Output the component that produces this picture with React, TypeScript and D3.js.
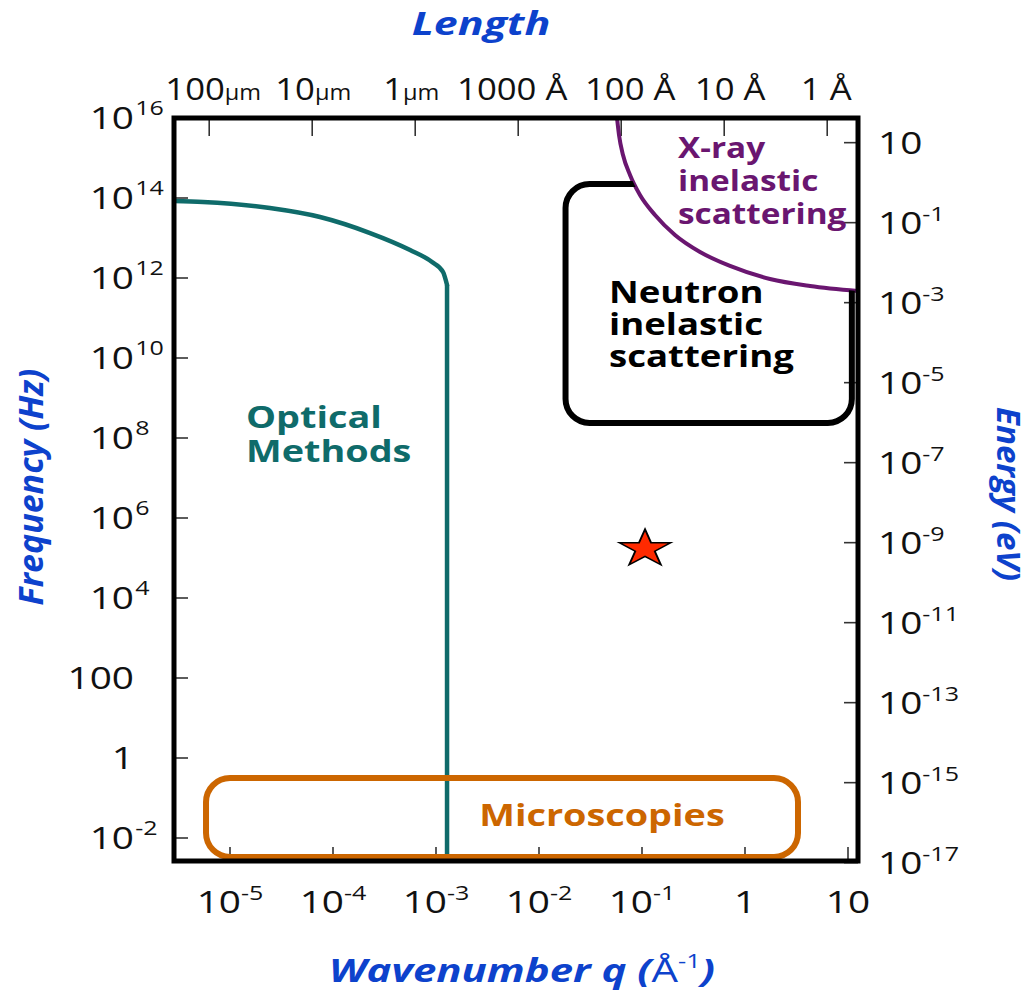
import React from "react";
import * as d3 from "d3";

const W = 1032;
const H = 991;
const PLANCK_EV_S = 4.135667e-15;

// Bottom axis: wavenumber q (1/Å)
const qTicks = [1e-5, 1e-4, 1e-3, 1e-2, 1e-1, 1, 10];
const qTickBase = ["10", "10", "10", "10", "10", "1", "10"];
const qTickExp = ["-5", "-4", "-3", "-2", "-1", "", ""];

// Top axis: length (Å), q = 2π / L
const lengthTicksA = [1e6, 1e5, 1e4, 1e3, 100, 10, 1];
const lengthNums = ["100", "10", "1", "1000", "100", "10", "1"];
const lengthUnits = ["µm", "µm", "µm", "Å", "Å", "Å", "Å"];

// Left axis: frequency (Hz)
const freqTicks = [1e-2, 1, 1e2, 1e4, 1e6, 1e8, 1e10, 1e12, 1e14, 1e16];
const freqBase = ["10", "1", "100", "10", "10", "10", "10", "10", "10", "10"];
const freqExp = ["-2", "", "", "4", "6", "8", "10", "12", "14", "16"];

// Right axis: energy (eV)
const energyTicks = [10, 1e-1, 1e-3, 1e-5, 1e-7, 1e-9, 1e-11, 1e-13, 1e-15, 1e-17];
const energyBase = ["10", "10", "10", "10", "10", "10", "10", "10", "10", "10"];
const energyExp = ["", "-1", "-3", "-5", "-7", "-9", "-11", "-13", "-15", "-17"];

// Optical methods boundary (q, f)
const opticalQ = [2.86e-6, 5.47e-6, 2.44e-5, 7.48e-5, 2.29e-4, 5.6e-4, 9.15e-4, 1.17e-3, 1.28e-3];
const opticalF = [8.41e13, 7.94e13, 5.62e13, 3.35e13, 1.33e13, 5.01e12, 2.51e12, 1.41e12, 6.68e11];
const opticalBottomF = 2.6e-3;

// X-ray inelastic scattering boundary (q, f)
const xrayQ = [0.0572, 0.0598, 0.0654, 0.0765, 0.0956, 0.1337, 0.209, 0.3657, 0.715, 1.748, 4.28, 12.5];
const xrayF = [1e16, 3.76e15, 1.19e15, 3.76e14, 1.19e14, 3.76e13, 1.19e13, 4.47e12, 2.0e12, 9.44e11, 6.31e11, 4.73e11];

// Neutron box (q range, f range)
const neutronQ = [0.0181, 10.9];
const neutronF = [2.37e8, 2.24e14];

// Microscopies box
const microQ = [5.85e-6, 3.27];
const microF = [3.35e-3, 0.316];

// Star marker
const starQ = [0.107];
const starF = [1.9e5];

const BLUE = "#0d42cc";
const TEAL = "#0f6b6a";
const PURPLE = "#6a1670";
const ORANGE = "#cc6600";

const LEFT = 174;
const RIGHT = 858;
const TOP = 118;
const BOTTOM = 861;

// small horizontal nudges of the top-axis labels (layout only)
const TOP_LABEL_DX = [4, 1, -4, -6, 9, 6, -1];

const x = d3.scaleLog().domain([Math.pow(10, -5 - 56 / 103), Math.pow(10, 1 + 10 / 103)]).range([LEFT, RIGHT]);
const y = d3.scaleLog().domain([Math.pow(10, -2 - 23 / 40), 1e16]).range([BOTTOM, TOP]);

const FONT = "'Open Sans', 'DejaVu Sans', sans-serif";

function SText({ x, y, sx = 1, children, ...rest }: any) {
  return (
    <g transform={`translate(${x},${y}) scale(${sx},1)`}>
      <text x={0} y={0} {...rest}>
        {children}
      </text>
    </g>
  );
}

function PowLabel({ base, exp, size, supSize }: { base: string; exp: string; size: number; supSize: number }) {
  return (
    <>
      <tspan fontSize={size}>{base}</tspan>
      {exp ? (
        <tspan fontSize={supSize} dy={-size * 0.42}>
          {exp}
        </tspan>
      ) : null}
    </>
  );
}

const TSX = 1.25; // horizontal stretch of tick labels

export default function App() {
  const tickLen = 14;
  const tickStyle = { stroke: "#333", strokeWidth: 1.6 };

  const optPts: [number, number][] = opticalQ.map((q, i) => [x(q), y(opticalF[i])]);
  const optLine = d3.line().curve(d3.curveMonotoneX)(optPts) || "";
  const lastOpt = optPts[optPts.length - 1];
  const optVert = `M${lastOpt[0]},${lastOpt[1]}L${lastOpt[0]},${y(opticalBottomF)}`;

  const xrPts: [number, number][] = xrayQ.map((q, i) => [x(q), y(xrayF[i])]);
  const xrLine = d3.line().curve(d3.curveMonotoneX)(xrPts) || "";
  const xrFirst = xrPts[0];
  const xrLast = xrPts[xrPts.length - 1];
  const outsideXray = `M-20,-20L${xrFirst[0]},-20L${xrFirst[0]},${xrFirst[1]}` +
    xrLine.replace(/^M[^LC]*/, "") +
    `L${W + 20},${xrLast[1]}L${W + 20},${H + 20}L-20,${H + 20}Z`;

  const star = d3.symbol().type(d3.symbolStar).size(480)() || "";

  const nX0 = x(neutronQ[0]);
  const nX1 = x(neutronQ[1]);
  const nY0 = y(neutronF[1]);
  const nY1 = y(neutronF[0]);

  const mX0 = x(microQ[0]);
  const mX1 = x(microQ[1]);
  const mY0 = y(microF[1]);
  const mY1 = y(microF[0]);

  return (
    <svg
      width={W}
      height={H}
      style={{ position: "absolute", left: 0, top: 0, background: "#fff" }}
      fontFamily={FONT}
    >
      <defs>
        <clipPath id="plotClip">
          <rect x={LEFT} y={TOP} width={RIGHT - LEFT} height={BOTTOM - TOP} />
        </clipPath>
        <clipPath id="belowXray">
          <path d={outsideXray} />
        </clipPath>
      </defs>

      {/* titles */}
      <SText x={481} y={35} sx={1.3} textAnchor="middle" fill={BLUE} fontSize={33} fontWeight={700} fontStyle="italic">
        Length
      </SText>
      <text
        transform={`translate(43,487) rotate(-90)`}
        textAnchor="middle"
        fill={BLUE}
        fontSize={34}
        fontWeight={700}
        fontStyle="italic"
      >
        Frequency (Hz)
      </text>
      <text
        transform={`translate(997,494) rotate(90)`}
        textAnchor="middle"
        fill={BLUE}
        fontSize={33}
        fontWeight={700}
        fontStyle="italic"
      >
        Energy (eV)
      </text>
      <SText x={522} y={982} sx={1.27} textAnchor="middle" fill={BLUE} fontSize={33}>
        <tspan fontWeight={700} fontStyle="italic">Wavenumber q (</tspan>
        <tspan fontWeight={400}>Å</tspan>
        <tspan fontWeight={400} fontSize={20} dy={-14}>-1</tspan>
        <tspan fontWeight={700} fontStyle="italic" dy={14}>)</tspan>
      </SText>

      {/* ticks */}
      {qTicks.map((q, i) => (
        <line key={"bt" + i} x1={x(q)} x2={x(q)} y1={BOTTOM} y2={BOTTOM - tickLen} {...tickStyle} />
      ))}
      {lengthTicksA.map((L, i) => (
        <line key={"tt" + i} x1={x((2 * Math.PI) / L)} x2={x((2 * Math.PI) / L)} y1={TOP} y2={TOP + tickLen + 4} {...tickStyle} />
      ))}
      {freqTicks.map((f, i) => (
        <line key={"lt" + i} x1={LEFT} x2={LEFT + tickLen} y1={y(f)} y2={y(f)} {...tickStyle} />
      ))}
      {energyTicks.map((e, i) => (
        <line key={"rt" + i} x1={RIGHT} x2={RIGHT - tickLen} y1={y(e / PLANCK_EV_S)} y2={y(e / PLANCK_EV_S)} {...tickStyle} />
      ))}

      {/* tick labels */}
      {qTicks.map((q, i) => (
        <SText key={"bl" + i} x={x(q)} y={913} sx={TSX} textAnchor="middle" fill="#111">
          <PowLabel base={qTickBase[i]} exp={qTickExp[i]} size={31} supSize={20} />
        </SText>
      ))}
      {lengthTicksA.map((L, i) => (
        <SText
          key={"tl" + i}
          x={x((2 * Math.PI) / L) + TOP_LABEL_DX[i]}
          y={100}
          sx={1.12}
          textAnchor="middle"
          fill="#111"
          fontSize={31}
        >
          <tspan>{lengthNums[i]}</tspan>
          {lengthUnits[i] === "µm" ? <tspan fontSize={21}>µm</tspan> : <tspan> {lengthUnits[i]}</tspan>}
        </SText>
      ))}
      {freqTicks.map((f, i) => (
        <g key={"ll" + i} transform={`translate(134,${y(f)}) scale(${TSX},1)`}>
          <text x={0} y={11} textAnchor="end" fill="#111" fontSize={31}>
            {freqBase[i]}
          </text>
          {freqExp[i] ? (
            <text x={1} y={-3} textAnchor="start" fill="#111" fontSize={20}>
              {freqExp[i]}
            </text>
          ) : null}
        </g>
      ))}
      {energyTicks.map((e, i) => (
        <SText key={"rl" + i} x={878} y={y(e / PLANCK_EV_S) + 11} sx={TSX} textAnchor="start" fill="#111">
          <PowLabel base={energyBase[i]} exp={energyExp[i]} size={31} supSize={20} />
        </SText>
      ))}

      {/* regions */}
      <g clipPath="url(#plotClip)">
        <path d={optLine} fill="none" stroke={TEAL} strokeWidth={4.5} strokeLinecap="round" />
        <path d={optVert} fill="none" stroke={TEAL} strokeWidth={4.5} />
        <path d={xrLine} fill="none" stroke={PURPLE} strokeWidth={4} />
      </g>
      <g clipPath="url(#belowXray)">
        <rect x={nX0} y={nY0} width={nX1 - nX0} height={nY1 - nY0} rx={24} ry={24} fill="none" stroke="#000" strokeWidth={6} />
      </g>
      <rect x={mX0} y={mY0} width={mX1 - mX0} height={mY1 - mY0} rx={24} ry={24} fill="none" stroke={ORANGE} strokeWidth={6} />

      {/* frame */}
      <rect x={LEFT} y={TOP} width={RIGHT - LEFT} height={BOTTOM - TOP} fill="none" stroke="#000" strokeWidth={5} />

      {/* star */}
      <path
        d={star}
        transform={`translate(${x(starQ[0])},${y(starF[0]) + 2}) scale(1.3,0.95)`}
        fill="#ff2a00"
        stroke="#000"
        strokeWidth={1.5}
      />

      {/* annotations */}
      <SText x={246} y={428} sx={1.22} fill={TEAL} fontSize={31} fontWeight={700}>
        <tspan x={0}>Optical</tspan>
        <tspan x={0} dy={34}>Methods</tspan>
      </SText>
      <SText x={602} y={826} sx={1.22} textAnchor="middle" fill={ORANGE} fontSize={31} fontWeight={700}>
        Microscopies
      </SText>
      <SText x={609} y={303} sx={1.18} fill="#000" fontSize={31} fontWeight={700}>
        <tspan x={0}>Neutron</tspan>
        <tspan x={0} dy={32}>inelastic</tspan>
        <tspan x={0} dy={32}>scattering</tspan>
      </SText>
      <SText x={678} y={158} sx={1.19} fill={PURPLE} fontSize={28} fontWeight={700}>
        <tspan x={0}>X-ray</tspan>
        <tspan x={0} dy={33}>inelastic</tspan>
        <tspan x={0} dy={33}>scattering</tspan>
      </SText>
    </svg>
  );
}
